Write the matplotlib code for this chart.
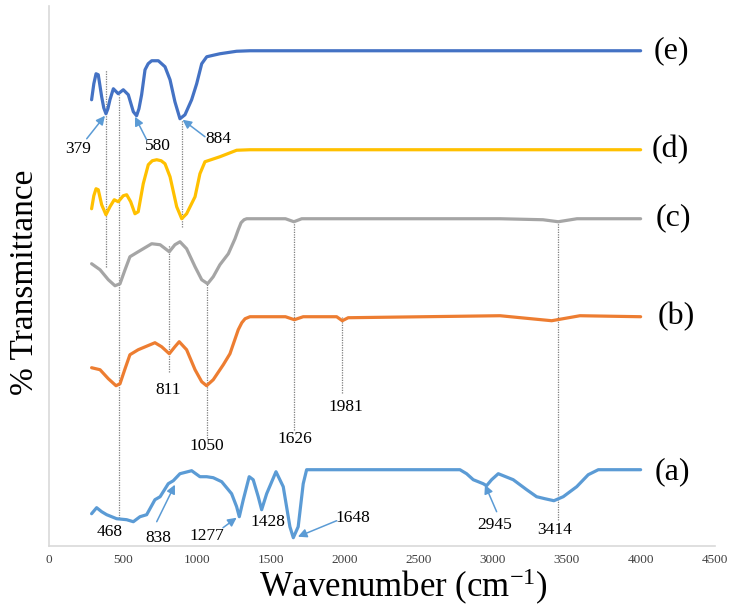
import numpy as np
import matplotlib
matplotlib.use("Agg")
import matplotlib.pyplot as plt

# ============================================================
# 1. DATA (transmittance in a.u., stacked)
# ============================================================
wn_e = [290, 305, 320, 335, 358, 372, 387, 400, 414, 437, 470, 504, 538, 572, 594, 610, 628, 651,
        672, 696, 741, 786, 820, 853, 887, 921, 966, 1000, 1034, 1068, 1112, 1157, 1270, 1360, 4000]
t_e = [446, 462, 472, 471, 449, 438, 432, 437, 446, 457, 452, 456, 451, 434, 430, 437, 451, 476,
       482, 485, 485, 479, 466, 444, 427, 431, 446, 462, 482, 489, 490.5, 492, 494.5, 495, 495]

wn_d = [290, 305, 320, 335, 358, 387, 414, 443, 470, 504, 527, 554, 583, 605, 639, 673,
        700, 730, 760, 786, 820, 865, 899, 932, 989, 1022, 1056, 1157, 1270, 1360, 4000]
t_d = [337, 350, 357, 356, 341, 331, 339, 346, 344, 350, 351, 344, 332, 334, 362, 381,
       385, 386, 385, 382, 369, 339, 327, 332, 349, 372, 384, 389, 395.5, 396, 396]

wn_c = [290, 347, 403, 448, 482, 516, 549, 605, 696, 753, 815, 853, 887, 932, 989,
        1034, 1074, 1112, 1157, 1214, 1259, 1281, 1300, 1320, 1338, 1600, 1657, 1710,
        3050, 3340, 3443, 3570, 4000]
t_c = [282, 276, 266, 260, 262, 276, 289, 294, 302, 301, 294, 301, 304, 297, 279,
       266, 262, 269, 281, 292, 307, 316, 323, 326, 327, 327, 324, 327,
       327, 326, 324, 327, 327]

wn_b = [290, 347, 403, 455, 482, 516, 549, 605, 718, 763, 815, 853, 882, 932, 989,
        1034, 1067, 1112, 1180, 1225, 1281, 1305, 1327, 1360, 1600, 1660, 1720, 1946, 1984,
        2024, 3050, 3399, 3590, 4000]
t_b = [178, 176, 167, 160, 162, 177, 191, 196, 203, 199, 192, 199, 204, 196, 176,
       164, 160, 166, 181, 192, 216, 223, 227, 229, 229, 226, 229, 229, 225,
       228, 230, 225, 230, 229]

wn_a = [290, 324, 358, 392, 459, 527, 572, 617, 662, 718, 753, 808, 842, 887, 966,
        1022, 1068, 1112, 1169, 1236, 1270, 1288, 1315, 1355, 1382, 1416, 1439, 1473,
        1536, 1585, 1630, 1653, 1686, 1720, 1743, 2779, 2824, 2869, 2936, 2959, 2993,
        3038, 3139, 3230, 3297, 3353, 3414, 3477, 3568, 3646, 3714, 4000]
t_a = [32, 38, 34, 31, 27, 26, 24, 29, 31, 46, 49, 62, 65, 72, 75,
       69, 69, 68, 64, 52, 39, 29, 46, 69, 66, 49, 36, 52,
       74, 59, 19, 8, 19, 62, 76, 76, 72, 66, 62, 60, 66,
       72, 66, 56, 49, 47, 45, 49, 59, 71, 76, 76]

series_names = ["(e)", "(d)", "(c)", "(b)", "(a)"]
series_colors = ["#4472C4", "#FFC000", "#A5A5A5", "#ED7D31", "#5B9BD5"]
name_pos = [(4210, 495), (4198, 396), (4218, 328), (4238, 229), (4216, 74)]

# dotted guide lines: wavenumber, top, bottom
guide_wn = [387, 477, 815, 899, 1068, 1659, 1984, 3443]
guide_top = [476, 451, 301, 426, 263, 324, 229, 326]
guide_bot = [279, 28, 174, 319, 108, 116, 153, 26]

# peak labels without arrows
peak_txt = ["811", "1050", "1626", "1981", "468", "1428", "3414"]
peak_pos = [(808, 156), (1068, 100), (1664, 107), (2007, 139), (414, 14), (1482, 24), (3421, 16)]

# peak labels with arrows: text, text position, arrow tail, arrow head
arr_txt = ["379", "580", "884", "838", "1277", "1648", "2945"]
arr_pos = [(200, 397), (741, 400), (1146, 407), (738, 8), (1068, 10), (2056, 28), (3016, 21)]
arr_tail = [(257, 407), (662, 406), (1056, 409), (730, 24), (1178, 18), (1946, 25), (3027, 34)]
arr_head = [(380, 430), (583, 429), (905, 426), (853, 61), (1270, 28), (1684, 9), (2948, 61)]

xticks = [0, 500, 1000, 1500, 2000, 2500, 3000, 3500, 4000, 4500]

# ============================================================
# 2. FIGURE
# ============================================================
plt.rcParams['font.family'] = ['Liberation Serif', 'DejaVu Serif']
plt.rcParams['mathtext.fontset'] = 'custom'
plt.rcParams['mathtext.rm'] = 'Liberation Serif'

fig = plt.figure(figsize=(7.31, 6.06), dpi=100)
ax = fig.add_axes([0.0666, 0.0995, 0.911, 0.891])

wns = [wn_e, wn_d, wn_c, wn_b, wn_a]
ts = [t_e, t_d, t_c, t_b, t_a]

for k in range(len(wns)):
    ax.plot(wns[k], ts[k], color=series_colors[k], lw=2.3, solid_capstyle='round',
            solid_joinstyle='round', zorder=3)
    ax.text(name_pos[k][0], name_pos[k][1], series_names[k], fontsize=23,
            ha='center', va='center', color='black')

for k in range(len(guide_wn)):
    ax.plot([guide_wn[k], guide_wn[k]], [guide_bot[k], guide_top[k]],
            color='#7F7F7F', lw=0.9, ls=(0, (1, 1)), zorder=2)

for k in range(len(peak_txt)):
    ax.text(peak_pos[k][0], peak_pos[k][1], peak_txt[k], fontsize=12.5,
            ha='center', va='center', color='black')

for k in range(len(arr_txt)):
    ax.text(arr_pos[k][0], arr_pos[k][1], arr_txt[k], fontsize=12.5,
            ha='center', va='center', color='black')
    ax.annotate("", xy=arr_head[k], xytext=arr_tail[k],
                arrowprops=dict(arrowstyle='-|>', color='#5B9BD5', lw=1.1,
                                mutation_scale=13, shrinkA=0, shrinkB=0))

ax.set_xlim(0, 4500)
ax.set_ylim(0, 540)
ax.set_xticks(xticks)
ax.set_xticklabels([str(v) for v in xticks], fontsize=9.5, color='#404040')
ax.set_yticks([])
ax.tick_params(axis='x', length=0, pad=6)

for s in ['top', 'right']:
    ax.spines[s].set_visible(False)
for s in ['left', 'bottom']:
    ax.spines[s].set_color('#D9D9D9')
    ax.spines[s].set_linewidth(1.2)

ax.set_xlabel(r"Wavenumber (cm$\mathregular{^{-1}}$)", fontsize=25)
ax.xaxis.set_label_coords(0.533, -0.095)
ax.xaxis.label.set_va('baseline')
ax.set_ylabel("% Transmittance", fontsize=24)
ax.yaxis.set_label_coords(-0.0356, 0.488)
ax.yaxis.label.set_va('center')

fig.savefig("out.png", dpi=100)
